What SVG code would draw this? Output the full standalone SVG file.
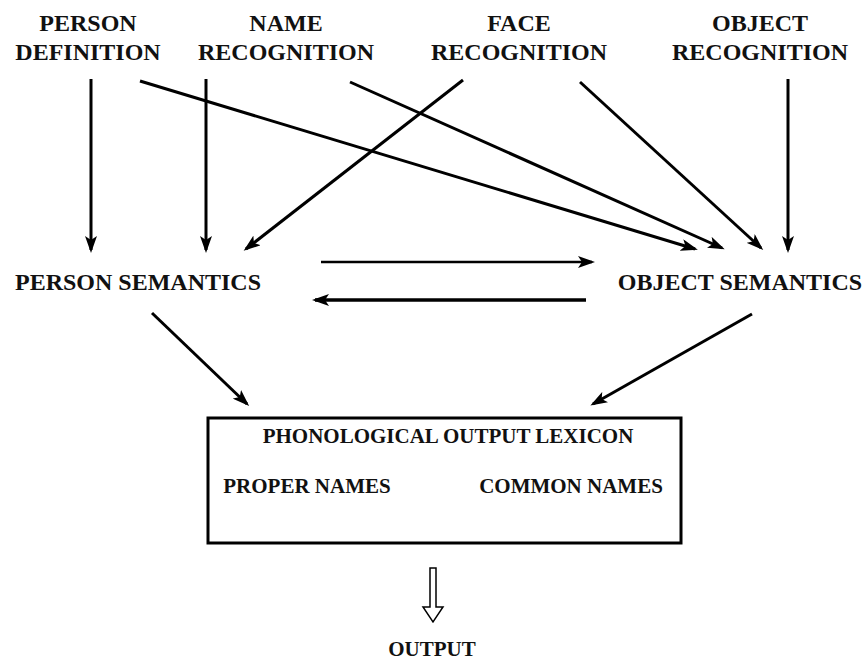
<svg xmlns="http://www.w3.org/2000/svg" width="868" height="662" viewBox="0 0 868 662">
<style>
text{font-family:"Liberation Serif","Times New Roman",serif;font-weight:bold;fill:#111;text-anchor:middle}
.t{font-size:24px}
.s{font-size:21px}
.c{stroke:#000;stroke-width:3;fill:none;marker-end:url(#ah)}
</style>
<defs>
<marker id="ah" markerUnits="userSpaceOnUse" markerWidth="18" markerHeight="12" refX="14" refY="6" orient="auto">
<path d="M0,0 L17,6 L0,12 L4,6 z" fill="#000"/>
</marker>
</defs>
<rect width="868" height="662" fill="#fff"/>
<g id="person-definition"><text class="t" x="88" y="31">PERSON</text><text class="t" x="88" y="60">DEFINITION</text></g>
<g id="name-recognition"><text class="t" x="286" y="31">NAME</text><text class="t" x="286" y="60">RECOGNITION</text></g>
<g id="face-recognition"><text class="t" x="519" y="31">FACE</text><text class="t" x="519" y="60">RECOGNITION</text></g>
<g id="object-recognition"><text class="t" x="760" y="31">OBJECT</text><text class="t" x="760" y="60">RECOGNITION</text></g>
<g id="person-semantics"><text class="t" x="138" y="290">PERSON SEMANTICS</text></g>
<g id="object-semantics"><text class="t" x="740" y="290">OBJECT SEMANTICS</text></g>
<g id="lexicon">
<rect x="208" y="418" width="473" height="125" fill="none" stroke="#000" stroke-width="3"/>
<text class="s" x="448" y="443">PHONOLOGICAL OUTPUT LEXICON</text>
<text class="s" x="307" y="493">PROPER NAMES</text>
<text class="s" x="571" y="493">COMMON NAMES</text>
</g>
<g id="output"><text class="s" x="432" y="656">OUTPUT</text></g>
<g id="connectors">
<line class="c" x1="91" y1="79" x2="91" y2="250"/>
<line class="c" x1="206" y1="79" x2="206" y2="250"/>
<line class="c" x1="463" y1="80" x2="246" y2="249"/>
<line class="c" x1="140" y1="81" x2="695" y2="249"/>
<line class="c" x1="350" y1="82" x2="722" y2="248"/>
<line class="c" x1="580" y1="82" x2="761" y2="248"/>
<line class="c" x1="788" y1="79" x2="788" y2="250"/>
<line class="c" x1="321" y1="262" x2="592" y2="262" style="stroke-width:2.5"/>
<line class="c" x1="586" y1="300" x2="315" y2="300" style="stroke-width:3.5"/>
<line class="c" x1="152" y1="313" x2="247" y2="404"/>
<line class="c" x1="752" y1="314" x2="593" y2="404"/>
<path d="M430,568 L436,568 L436,607 L443,607 L433,622 L423,607 L430,607 Z" fill="#fff" stroke="#000" stroke-width="1.5"/>
</g>
</svg>
